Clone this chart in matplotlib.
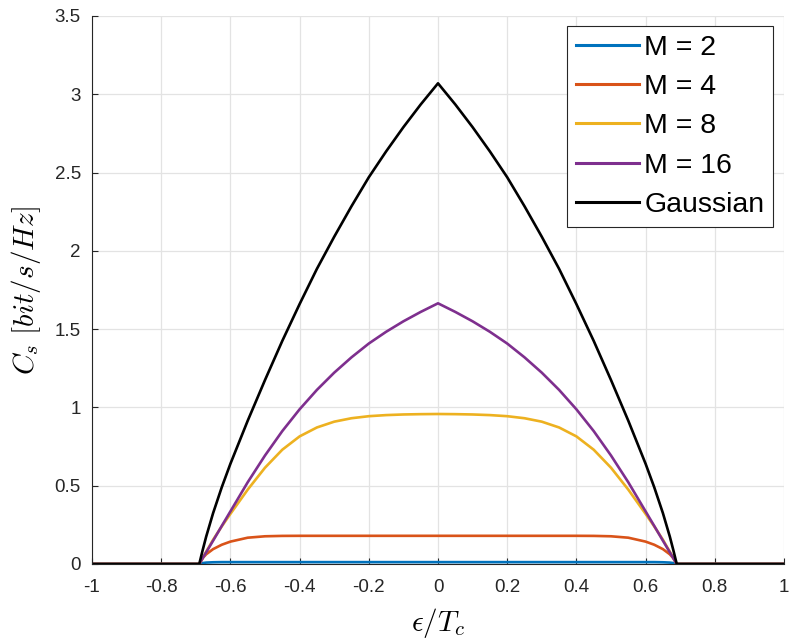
import matplotlib.pyplot as plt
from matplotlib.ticker import FixedLocator, FixedFormatter

# secrecy capacity vs normalised offset
x = [-1, -0.69, -0.68, -0.67, -0.65, -0.625, -0.6, -0.55, -0.5, -0.45, -0.4,
     -0.35, -0.3, -0.25, -0.2, -0.15, -0.1, -0.05, 0,
     0.05, 0.1, 0.15, 0.2, 0.25, 0.3, 0.35, 0.4, 0.45, 0.5,
     0.55, 0.6, 0.625, 0.65, 0.67, 0.68, 0.69, 1]

m2 = [0, 0, 0.006, 0.009, 0.011, 0.012, 0.012, 0.012, 0.012, 0.012, 0.012,
      0.012, 0.012, 0.012, 0.012, 0.012, 0.012, 0.012, 0.012,
      0.012, 0.012, 0.012, 0.012, 0.012, 0.012, 0.012, 0.012, 0.012, 0.012,
      0.012, 0.012, 0.012, 0.011, 0.009, 0.006, 0, 0]

m4 = [0, 0, 0.038, 0.062, 0.095, 0.123, 0.143, 0.168, 0.177, 0.1795, 0.18,
      0.18, 0.18, 0.18, 0.18, 0.18, 0.18, 0.18, 0.18,
      0.18, 0.18, 0.18, 0.18, 0.18, 0.18, 0.18, 0.18, 0.1795, 0.177,
      0.168, 0.143, 0.123, 0.095, 0.062, 0.038, 0, 0]

m8 = [0, 0, 0.04, 0.078, 0.155, 0.24, 0.32, 0.475, 0.615, 0.73, 0.815,
      0.872, 0.909, 0.931, 0.944, 0.951, 0.955, 0.957, 0.958,
      0.957, 0.955, 0.951, 0.944, 0.931, 0.909, 0.872, 0.815, 0.73, 0.615,
      0.475, 0.32, 0.24, 0.155, 0.078, 0.04, 0, 0]

m16 = [0, 0, 0.037, 0.075, 0.149, 0.243, 0.336, 0.522, 0.693, 0.849, 0.988,
       1.112, 1.222, 1.32, 1.408, 1.483, 1.55, 1.61, 1.665,
       1.61, 1.55, 1.483, 1.408, 1.32, 1.222, 1.112, 0.988, 0.849, 0.693,
       0.522, 0.336, 0.243, 0.149, 0.075, 0.037, 0, 0]

gauss = [0, 0, 0.09, 0.175, 0.325, 0.49, 0.64, 0.915, 1.175, 1.425, 1.66,
         1.885, 2.09, 2.285, 2.47, 2.635, 2.79, 2.935, 3.07,
         2.935, 2.79, 2.635, 2.47, 2.285, 2.09, 1.885, 1.66, 1.425, 1.175,
         0.915, 0.64, 0.49, 0.325, 0.175, 0.09, 0, 0]

labels = ["M = 2", "M = 4", "M = 8", "M = 16", "Gaussian"]
colors = ["#0072BD", "#D95319", "#EDB120", "#7E2F8E", "black"]

xticks = [-1, -0.8, -0.6, -0.4, -0.2, 0, 0.2, 0.4, 0.6, 0.8, 1]
xticklabels = ["-1", "-0.8", "-0.6", "-0.4", "-0.2", "0", "0.2", "0.4", "0.6", "0.8", "1"]
yticks = [0, 0.5, 1, 1.5, 2, 2.5, 3, 3.5]
yticklabels = ["0", "0.5", "1", "1.5", "2", "2.5", "3", "3.5"]

plt.rcParams['font.family'] = ['Liberation Sans', 'DejaVu Sans']
plt.rcParams['mathtext.fontset'] = 'cm'

fig = plt.figure(figsize=(7.89, 6.39), dpi=100)
ax = fig.add_axes([92 / 789, 1 - 564 / 639, 692 / 789, 548 / 639])

for y, lab, c in zip([m2, m4, m8, m16, gauss], labels, colors):
    ax.plot(x, y, color=c, lw=1.9, label=lab)

ax.set_xlim(-1, 1)
ax.set_ylim(0, 3.5)
ax.xaxis.set_major_locator(FixedLocator(xticks))
ax.xaxis.set_major_formatter(FixedFormatter(xticklabels))
ax.yaxis.set_major_locator(FixedLocator(yticks))
ax.yaxis.set_major_formatter(FixedFormatter(yticklabels))

ax.grid(True, color="#e3e3e3", lw=0.9)
ax.set_axisbelow(True)
ax.spines['top'].set_visible(False)
ax.spines['right'].set_visible(False)
for s in ['left', 'bottom']:
    ax.spines[s].set_color('#262626')
    ax.spines[s].set_linewidth(0.8)
ax.tick_params(direction='in', length=4, width=0.8, colors='#262626',
               labelsize=13.5)
ax.tick_params(axis='x', pad=11)
ax.tick_params(axis='y', pad=8)

ax.set_xlabel(r'$\epsilon/T_c$', fontsize=21, va='top')
ax.xaxis.set_label_coords(0.5, -0.076)
ax.set_ylabel(r'$C_s\ [bit/s/Hz]$', fontsize=21)
ax.yaxis.set_label_coords(-0.071, 0.5)

leg = ax.legend(loc='upper right', bbox_to_anchor=(773 / 789, 1 - 26 / 639),
                bbox_transform=fig.transFigure, borderaxespad=0,
                fontsize=20.5, handlelength=2.2, handletextpad=0.2,
                labelspacing=0.47, borderpad=0.3, fancybox=False,
                framealpha=1, edgecolor='#262626')
leg.get_frame().set_linewidth(0.8)
for line in leg.get_lines():
    line.set_linewidth(2.2)

fig.savefig("out.png", dpi=100)
